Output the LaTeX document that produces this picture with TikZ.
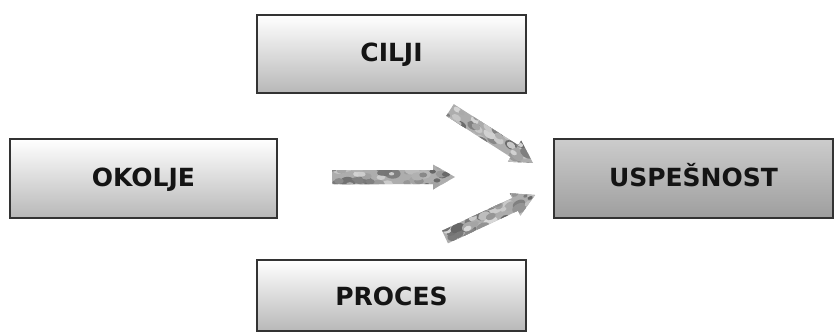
\documentclass[tikz,border=0pt]{standalone}
\usepackage{fontspec}
\setmainfont{DejaVu Sans}
\usetikzlibrary{calc}
\definecolor{boxline}{HTML}{333333}
\tikzset{
  x=1pt,y=-1pt,
  lightbox/.style={draw=boxline, line width=1.6pt, top color=white, bottom color=black!28},
  darkbox/.style={lightbox, top color=black!20, bottom color=black!38},
  label/.style={font=\bfseries\fontsize{25}{27}\selectfont, text=black!92,
    text height=18pt, text depth=0pt, inner sep=0pt},
}
% #1 name, #2 start coordinate, #3 rotation (canvas), #4 length
\newcommand{\mottledarrow}[4]{%
  \begin{scope}[shift={(#2)}, rotate=#3]
    \coordinate (#1) at (#4,0);
    \begin{scope}
      \clip (0,-7) -- ({#4-22},-7) -- ({#4-22},-12.5) -- (#4,0) -- ({#4-22},12.5) -- ({#4-22},7) -- (0,7) -- cycle;
      \fill[black!32] (-2,-14) rectangle ({#4+2},14);
      \foreach \i in {1,...,70}{
        \pgfmathsetmacro{\px}{rnd*(#4)}
        \pgfmathsetmacro{\py}{(rnd-0.5)*26}
        \pgfmathsetmacro{\pr}{1.5+rnd*3.5}
        \pgfmathsetmacro{\pc}{15+rnd*45}
        \fill[black!\pc] (\px,\py) ellipse ({\pr*1.6} and \pr);
      }
    \end{scope}
  \end{scope}}
\begin{document}
\begin{tikzpicture}
\pgfmathsetseed{7}
\useasboundingbox (0,0) rectangle (840,332);
\path[lightbox] (257,15) rectangle (526,93);
\node[label] (cilji) at (391.5,52.5) {CILJI};
\path[lightbox] (10,139) rectangle (277,218);
\node[label] (okolje) at (143.5,177.5) {OKOLJE};
\path[darkbox] (554,139) rectangle (833,218);
\node[label] (uspesnost) at (693.5,177.5) {USPEŠNOST};
\path[lightbox] (257,260) rectangle (526,331);
\node[label] (proces) at (391.5,296.5) {PROCES};
\coordinate (a1s) at (332,177);
\coordinate (a2s) at (450,110);
\coordinate (a3s) at (445,237);
\mottledarrow{a1e}{a1s}{0}{123}
\mottledarrow{a2e}{a2s}{-32.56}{98.5}
\mottledarrow{a3e}{a3s}{25}{99.3}
\end{tikzpicture}
\end{document}
